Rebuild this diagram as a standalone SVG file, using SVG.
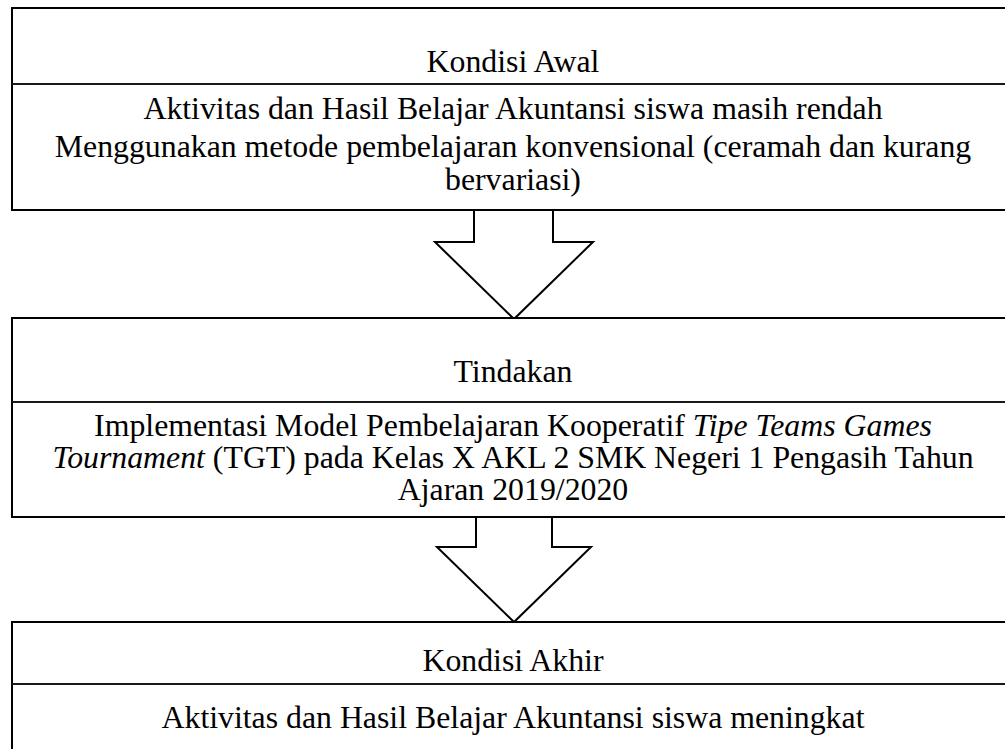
<svg xmlns="http://www.w3.org/2000/svg" width="1005" height="749" viewBox="0 0 1005 749">
<style>
.box{fill:#fff;stroke:#000;stroke-width:2}
.div{stroke:#1a1a1a;stroke-width:2}
.arr{fill:#fff;stroke:#000;stroke-width:2;stroke-linejoin:miter}
text{font-family:"Liberation Serif","Times New Roman",serif;font-size:31.8px;fill:#000;text-anchor:middle}
.i{font-style:italic}
</style>
<rect width="1005" height="749" fill="#fff"/>
<g id="connectors">
<polyline class="arr" points="474,210 474,242 435,242 514,319 593,242 553,242 553,210"/>
<polyline class="arr" points="476,517 476,547 437,547 514,622 591,547 552,547 552,517"/>
</g>
<g id="kondisi-awal">
<rect class="box" x="12" y="8" width="1010" height="202"/>
<line class="div" x1="12" y1="84" x2="1010" y2="84"/>
<text x="513" y="72">Kondisi Awal</text>
<text x="513" y="119">Aktivitas dan Hasil Belajar Akuntansi siswa masih rendah</text>
<text x="513" y="157">Menggunakan metode pembelajaran konvensional (ceramah dan kurang</text>
<text x="513" y="190">bervariasi)</text>
</g>
<g id="tindakan">
<rect class="box" x="12" y="318" width="1010" height="199"/>
<line class="div" x1="12" y1="402" x2="1010" y2="402"/>
<text x="513" y="382">Tindakan</text>
<text x="513" y="436">Implementasi Model Pembelajaran Kooperatif <tspan class="i">Tipe Teams Games</tspan></text>
<text x="513" y="468"><tspan class="i">Tournament</tspan> (TGT) pada Kelas X AKL 2 SMK Negeri 1 Pengasih Tahun</text>
<text x="513" y="500">Ajaran 2019/2020</text>
</g>
<g id="kondisi-akhir">
<rect class="box" x="12" y="622" width="1010" height="140"/>
<line class="div" x1="12" y1="684" x2="1010" y2="684"/>
<text x="513" y="671">Kondisi Akhir</text>
<text x="513" y="728">Aktivitas dan Hasil Belajar Akuntansi siswa meningkat</text>
</g>
</svg>
